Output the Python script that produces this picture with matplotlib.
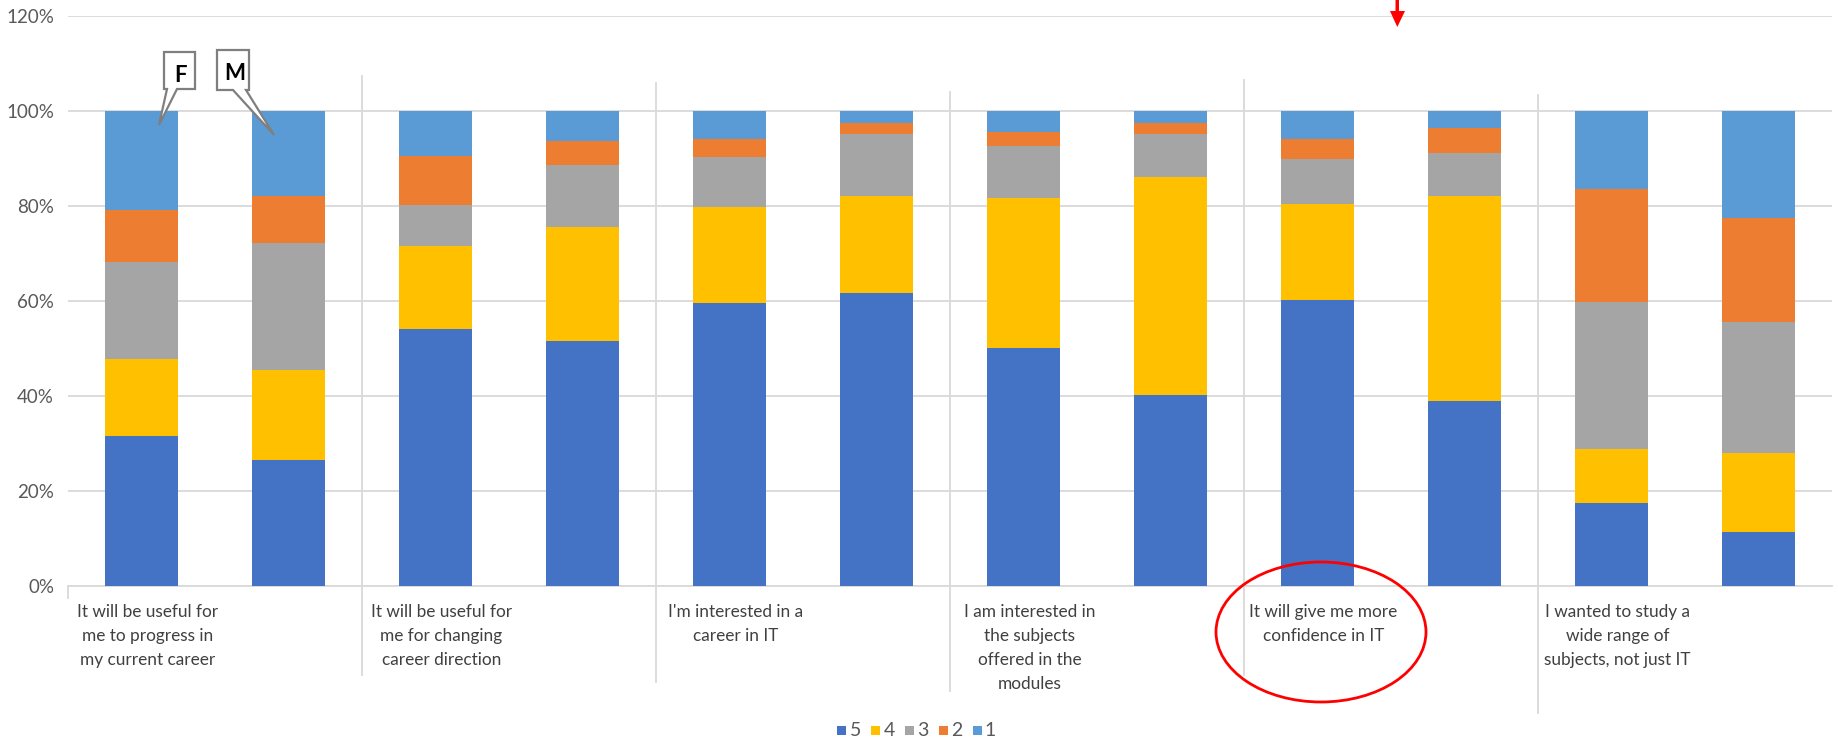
import matplotlib
matplotlib.use("Agg")
import matplotlib.pyplot as plt
import numpy as np
from matplotlib import font_manager
from matplotlib.patches import Polygon, Ellipse, Rectangle
from matplotlib.lines import Line2D
from matplotlib.transforms import Affine2D, blended_transform_factory

# ---- data -------------------------------------------------------------
groups = [
    "It will be useful for\nme to progress in\nmy current career",
    "It will be useful for\nme for changing\ncareer direction",
    "I'm interested in a\ncareer in IT",
    "I am interested in\nthe subjects\noffered in the\nmodules",
    "It will give me more\nconfidence in IT",
    "I wanted to study a\nwide range of\nsubjects, not just IT",
]
genders = ["F", "M"]
ratings = ["5", "4", "3", "2", "1"]

# shares per bar (F, M for each statement), in percent
r5 = [31.5, 26.5, 54.2, 51.6, 59.5, 61.7, 50.1, 40.2, 60.2, 39.0, 17.5, 11.4]
r4 = [16.2, 19.0, 17.4, 24.0, 20.3, 20.5, 31.6, 46.0, 20.3, 43.2, 11.4, 16.5]
r3 = [20.5, 26.7, 8.6, 13.0, 10.6, 12.9, 10.9, 8.9, 9.4, 8.9, 30.9, 27.7]
r2 = [11.0, 9.9, 10.4, 5.0, 3.7, 2.4, 3.0, 2.4, 4.2, 5.4, 23.7, 21.9]
r1 = [20.8, 18.0, 9.4, 6.4, 5.9, 2.5, 4.4, 2.5, 5.9, 3.5, 16.5, 22.5]

colors = ["#4472C4", "#FFC000", "#A5A5A5", "#ED7D31", "#5B9BD5"]

# ---- fonts ------------------------------------------------------------
available = {f.name for f in font_manager.fontManager.ttflist}
family = [f for f in ["Lato", "Open Sans", "DejaVu Sans"] if f in available]
plt.rcParams["font.family"] = family

W, H = 1839, 741
fig = plt.figure(figsize=(W / 100, H / 100), dpi=100)
ax = fig.add_axes([68 / W, (H - 586) / H, 1764 / W, 570 / H])

# pixel (top-left origin) -> figure coordinates
pix = Affine2D().scale(1 / W, -1 / H).translate(0, 1) + fig.transFigure

x = np.arange(len(groups) * len(genders))
series = [r5, r4, r3, r2, r1]
bottom = np.zeros(len(x))
for name, vals, col in zip(ratings, series, colors):
    v = np.array(vals) / 100.0
    ax.bar(x, v, width=0.5, bottom=bottom, color=col, label=name, zorder=3)
    bottom += v

ax.set_xlim(-0.5, len(x) - 0.5)
ax.set_ylim(0, 1.2)
yt = np.arange(0, 1.21, 0.2)
ax.set_yticks(yt)
ax.set_yticklabels([f"{int(round(t * 100))}%" for t in yt], fontsize=13.5, color="#595959")
ax.tick_params(axis="y", length=0, pad=10)
ax.set_xticks([])
ax.grid(axis="y", color="#D9D9D9", linewidth=1.3, zorder=0)
for s in ["top", "right", "left"]:
    ax.spines[s].set_visible(False)
ax.spines["bottom"].set_color("#D9D9D9")
ax.spines["bottom"].set_linewidth(1.3)

# group separators running from above the bars down through the labels
bt = blended_transform_factory(ax.transData, fig.transFigure)
sep_tops = [76, 83, 92, 80, 95]
sep_bottoms = [675, 682, 691, 675, 713]
for k in range(1, len(groups)):
    xb = 2 * k - 0.5
    fig.add_artist(Line2D([xb, xb], [1 - sep_tops[k - 1] / H, 1 - sep_bottoms[k - 1] / H],
                          transform=bt, color="#D9D9D9", linewidth=1.3))
fig.add_artist(Line2D([-0.5, -0.5], [1 - 586 / H, 1 - 598 / H], transform=bt,
                      color="#D9D9D9", linewidth=1.3))

# statement labels under each pair of bars
for k, g in enumerate(groups):
    ax.text(2 * k + 0.04, 1 - 604 / H, g, transform=bt, ha="center", va="top",
            fontsize=12.4, color="#404040", linespacing=1.62)

# legend: small squares followed by the rating
for i, (lab, col) in enumerate(zip(ratings, colors)):
    sx = 842 + 33.8 * i
    fig.add_artist(Rectangle((sx - 4.5, 725.5), 9, 9, transform=pix,
                             facecolor=col, edgecolor="none"))
    fig.text((sx + 7.5) / W, 1 - 730.5 / H, lab, ha="left", va="center",
             fontsize=14, color="#595959")

# F / M callouts
callouts = [
    ("F", [(164, 52), (195, 52), (195, 89), (177, 89), (159, 125), (167, 89), (164, 89)], (181, 75)),
    ("M", [(217, 50), (249, 50), (249, 90), (246, 90), (274, 135), (233, 90), (217, 90)], (235, 74)),
]
for txt, poly, pos in callouts:
    fig.add_artist(Polygon(poly, closed=True, transform=pix, facecolor="white",
                           edgecolor="#7F7F7F", linewidth=1.6, zorder=10))
    fig.text(pos[0] / W, 1 - pos[1] / H, txt, ha="center", va="center",
             fontsize=16, fontweight="bold", color="black", zorder=11)

# red marker arrow at the top
fig.add_artist(Polygon([(1395.5, 0), (1399, 0), (1399, 11), (1405, 11), (1397.3, 27),
                        (1390, 11), (1395.5, 11)], closed=True, transform=pix,
                       facecolor="#FF0000", edgecolor="none", zorder=10))

# red ellipse around the confidence statement
fig.add_artist(Ellipse((1321, 632), 210, 140, transform=pix, facecolor="none",
                       edgecolor="#FF0000", linewidth=2.0, zorder=10))

fig.savefig("out.png", dpi=100)
